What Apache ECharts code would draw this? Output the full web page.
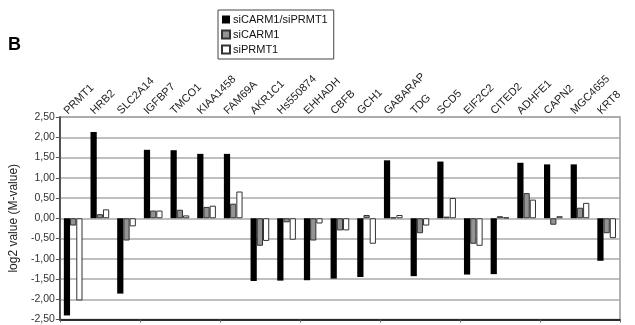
<!DOCTYPE html>
<html><head><meta charset="utf-8">
<script src="https://cdn.jsdelivr.net/npm/echarts@6/dist/echarts.min.js"></script>
<style>html,body{margin:0;padding:0;background:#fff}#c{width:635px;height:325px}</style>
</head><body><div id="c"></div>
<script>
const categories = ["PRMT1","HRB2","SLC2A14","IGFBP7","TMCO1","KIAA1458","FAM69A","AKR1C1","Hs550874","EHHADH","CBFB","GCH1","GABARAP","TDG","SCD5","EIF2C2","CITED2","ADHFE1","CAPN2","MGC4655","KRT8"];
const seriesNames = ["siCARM1/siPRMT1","siCARM1","siPRMT1"];
const siCARM1_siPRMT1 = [-2.40,2.13,-1.86,1.69,1.68,1.59,1.59,-1.55,-1.54,-1.53,-1.49,-1.45,1.43,-1.43,1.40,-1.39,-1.38,1.37,1.33,1.33,-1.05];
const siCARM1 = [-0.18,0.10,-0.55,0.19,0.21,0.28,0.36,-0.68,-0.10,-0.55,-0.30,0.08,0.02,-0.37,0.04,-0.63,0.05,0.62,-0.16,0.26,-0.37];
const siPRMT1 = [-2.03,0.22,-0.20,0.19,0.07,0.31,0.66,-0.56,-0.53,-0.13,-0.30,-0.63,0.08,-0.18,0.50,-0.68,0.02,0.46,0.05,0.38,-0.49];
const yTicks = {min:-2.5, max:2.5, interval:0.5};

const chart = echarts.init(document.getElementById('c'), null, {renderer:'canvas'});
const font = 'Liberation Sans, Arial, sans-serif';
const styles = [
  {color:'#000', borderColor:'#000', borderWidth:0},
  {color:'#939393', borderColor:'#333', borderWidth:1},
  {color:'#fff', borderColor:'#333', borderWidth:1}
];
const dataSets = [siCARM1_siPRMT1, siCARM1, siPRMT1];
chart.setOption({
  animation:false,
  textStyle:{fontFamily:font},
  graphic:[{type:'text', left:8, top:36, style:{text:'B', font:'bold 18px '+font, fill:'#000'}}],
  legend:{
    orient:'vertical', left:218, top:10, padding:[4,6,4,3],
    borderColor:'#444', borderWidth:1, itemGap:4,
    itemWidth:8, itemHeight:8, icon:'rect',
    textStyle:{fontSize:11, color:'#111', fontFamily:font, padding:[0,0,0,-2]},
    data:seriesNames
  },
  grid:{left:52, right:15, top:117, bottom:1, show:true, borderColor:'#999', borderWidth:1.5},
  xAxis:[
    {type:'category', data:categories, position:'top',
     axisLine:{show:false}, axisTick:{show:false},
     axisLabel:{rotate:45, margin:4, fontSize:11, color:'#222', fontFamily:font, interval:0,
       verticalAlign:'bottom', padding:[0,0,0,-5]}},
    {type:'category', data:categories, position:'bottom',
     axisLine:{onZero:true, lineStyle:{color:'#000', width:1.5}},
     axisTick:{show:true, length:3, lineStyle:{color:'#666'}},
     axisLabel:{show:false}}
  ],
  yAxis:{
    type:'value', min:yTicks.min, max:yTicks.max, interval:yTicks.interval,
    name:'log2 value (M-value)', nameLocation:'middle', nameGap:29, nameRotate:90,
    nameTextStyle:{fontSize:12, color:'#222', fontFamily:font},
    axisLine:{show:true, onZero:false, lineStyle:{color:'#333', width:1.5}},
    axisTick:{show:true, length:4, lineStyle:{color:'#555'}},
    splitLine:{show:true, lineStyle:{color:'#aaa', width:1.5}},
    axisLabel:{fontSize:10.5, color:'#333', margin:5, fontFamily:font,
      formatter:v=>v.toFixed(2).replace('.',',')}
  },
  series: seriesNames.map((n,i)=>({
    name:n, type:'bar', xAxisIndex:0, data:dataSets[i],
    barGap:'0%', barCategoryGap:'30%', itemStyle:styles[i]
  }))
});
</script></body></html>
